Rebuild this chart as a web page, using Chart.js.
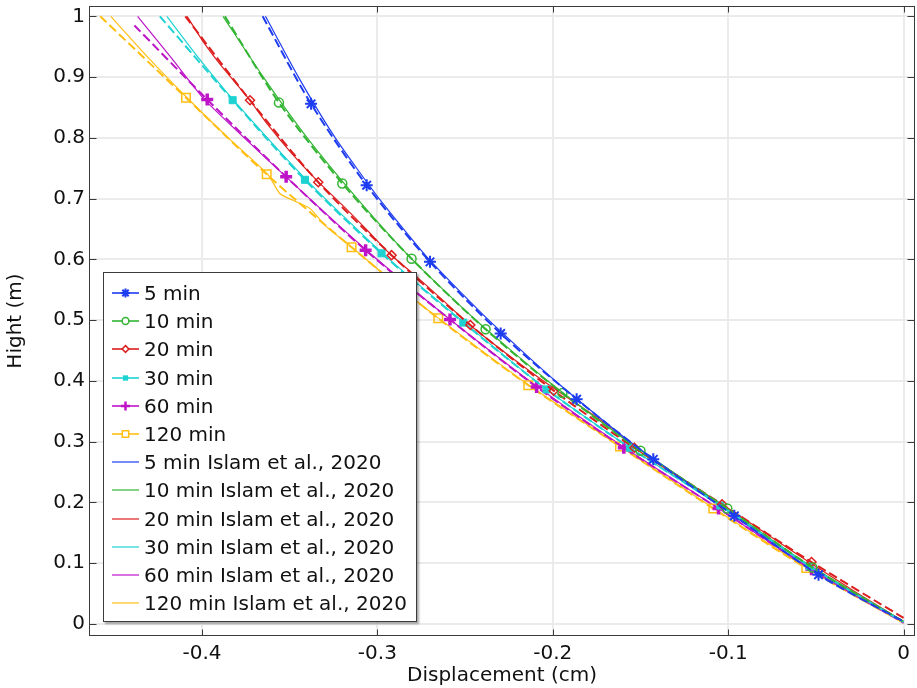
<!DOCTYPE html>
<html>
<head>
<meta charset="utf-8">
<script src="https://cdn.jsdelivr.net/npm/chart.js"></script>
<style>
body { margin: 0; background: #fff; font-family: 'DejaVu Sans', sans-serif; }
#wrap { position: relative; width: 917px; height: 688px; }
#legend {
    position: absolute; left: 103px; top: 272px; width: 314px; height: 350px;
    box-sizing: border-box; background: #fff; border: 1px solid #3c3c3c;
    box-shadow: 2px 2px 2px rgba(0,0,0,0.35); padding: 6px 0 0 8px;
}
.row { height: 28.2px; display: flex; align-items: center; font-size: 20px; color: #111; white-space: nowrap; }
.row canvas { margin-right: 5px; }
</style>
</head>
<body>
<div id="wrap">
    <canvas id="chart" width="917" height="688"></canvas>
    <div id="legend"></div>
</div>
<script>
// ---- axes ----
const xTickVals = [-0.4, -0.3, -0.2, -0.1, 0];
const yTickVals = [0, 0.1, 0.2, 0.3, 0.4, 0.5, 0.6, 0.7, 0.8, 0.9, 1];

// ---- series ----
const times = ['5 min', '10 min', '20 min', '30 min', '60 min', '120 min'];
const refTag = ' Islam et al., 2020';
const colors = ['#1e3cf0', '#33b533', '#dc1e1e', '#1ed2d2', '#be14c8', '#ffbe14'];
const marks = ['star', 'circle', 'rectRot', 'rect', 'cross', 'rect'];

// model: displacement (cm) vs height (m)
const model5X   = [-0.3654, -0.3378, -0.3061, -0.2700, -0.2297, -0.1864, -0.1427, -0.0965, -0.0485, 0];
const model5Y   = [1.0, 0.856, 0.722, 0.596, 0.478, 0.370, 0.271, 0.178, 0.081, 0.004];
const model10X  = [-0.3869, -0.3561, -0.3200, -0.2805, -0.2383, -0.1945, -0.1500, -0.1005, -0.0520, 0];
const model10Y  = [1.0, 0.858, 0.725, 0.601, 0.485, 0.380, 0.285, 0.190, 0.093, 0.004];
const model20X  = [-0.4095, -0.3726, -0.3337, -0.2919, -0.2470, -0.1995, -0.1535, -0.1035, -0.0525, 0];
const model20Y  = [1.0, 0.862, 0.727, 0.607, 0.492, 0.384, 0.290, 0.197, 0.102, 0.010];
const model30X  = [-0.4240, -0.3825, -0.3413, -0.2976, -0.2510, -0.2035, -0.1560, -0.1045, -0.0535, 0];
const model30Y  = [1.0, 0.862, 0.731, 0.610, 0.496, 0.386, 0.290, 0.195, 0.095, 0.003];
const model60X  = [-0.4385, -0.3970, -0.3520, -0.3067, -0.2586, -0.2092, -0.1595, -0.1055, -0.0525, 0];
const model60Y  = [0.985, 0.863, 0.736, 0.615, 0.501, 0.390, 0.290, 0.190, 0.090, 0.002];
const model120X = [-0.4580, -0.4091, -0.3631, -0.3147, -0.2653, -0.2140, -0.1617, -0.1085, -0.0555, 0];
const model120Y = [1.0, 0.866, 0.740, 0.620, 0.503, 0.393, 0.292, 0.190, 0.092, 0.002];

// Islam et al., 2020
const islam5X   = [-0.3638, -0.3450, -0.3240, -0.2990, -0.2705, -0.2365, -0.1985, -0.1560, -0.1070, -0.0580, 0];
const islam5Y   = [1.0, 0.9, 0.8, 0.7, 0.6, 0.5, 0.4, 0.3, 0.2, 0.1, 0.003];
const islam10X  = [-0.3880, -0.3650, -0.3400, -0.3115, -0.2802, -0.2438, -0.2028, -0.1570, -0.1057, -0.0555, 0];
const islam10Y  = [1.0, 0.9, 0.8, 0.7, 0.6, 0.5, 0.4, 0.3, 0.2, 0.1, 0.004];
const islam20X  = [-0.4085, -0.3985, -0.3880, -0.3735, -0.3620, -0.3490, -0.3345, -0.3195, -0.3065, -0.2925, -0.2790, -0.2635, -0.2475,
                   -0.2310, -0.2140, -0.1980, -0.1800, -0.1630, -0.1535, -0.1300, -0.1035, -0.0800, -0.0540, -0.0270, 0];
const islam20Y  = [1.0, 0.955, 0.915, 0.865, 0.820, 0.775, 0.730, 0.688, 0.650, 0.608, 0.575, 0.535, 0.493,
                   0.455, 0.418, 0.385, 0.350, 0.315, 0.290, 0.245, 0.197, 0.152, 0.102, 0.052, 0.004];
const islam30X  = [-0.4200, -0.4015, -0.3820, -0.3405, -0.2970, -0.2505, -0.2035, -0.1560, -0.1045, -0.0535, 0];
const islam30Y  = [1.0, 0.930, 0.862, 0.731, 0.610, 0.496, 0.386, 0.290, 0.195, 0.095, 0.003];
const islam60X  = [-0.4367, -0.4170, -0.3985, -0.3525, -0.3065, -0.2580, -0.2085, -0.1590, -0.1055, -0.0525, 0];
const islam60Y  = [1.0, 0.930, 0.863, 0.737, 0.616, 0.500, 0.390, 0.290, 0.190, 0.090, 0.002];
const islam120X = [-0.4520, -0.4300, -0.4085, -0.3850, -0.3625, -0.3555, -0.3480, -0.3385, -0.3290, -0.3145, -0.2900, -0.2650,
                   -0.2135, -0.1615, -0.1080, -0.0550, 0];
const islam120Y = [1.0, 0.930, 0.866, 0.800, 0.740, 0.708, 0.697, 0.684, 0.6535, 0.620, 0.560, 0.503,
                   0.393, 0.292, 0.190, 0.092, 0.002];

const modelX = [model5X, model10X, model20X, model30X, model60X, model120X];
const modelY = [model5Y, model10Y, model20Y, model30Y, model60Y, model120Y];
const islamX = [islam5X, islam10X, islam20X, islam30X, islam60X, islam120X];
const islamY = [islam5Y, islam10Y, islam20Y, islam30Y, islam60Y, islam120Y];

const pts = (xs, ys) => xs.map((x, i) => ({ x, y: ys[i] }));

// marker look per series
const markStyle = [
    { r: 6,   w: 2,   fill: false },
    { r: 4.5, w: 1.5, fill: false },
    { r: 4.5, w: 1.5, fill: false },
    { r: 5,   w: 1,   fill: true  },
    { r: 6,   w: 3.5, fill: false },
    { r: 6,   w: 1.5, fill: false }
];

const datasets = [];
times.forEach((t, i) => {
    const n = modelX[i].length;
    datasets.push({
        label: t,
        data: pts(modelX[i], modelY[i]),
        borderColor: colors[i],
        borderWidth: 2,
        borderDash: [9, 4],
        tension: 0.3,
        pointStyle: marks[i],
        pointRadius: c => (c.dataIndex === 0 || c.dataIndex === n - 1) ? 0 : markStyle[i].r,
        pointBorderWidth: markStyle[i].w,
        pointBorderColor: colors[i],
        pointBackgroundColor: markStyle[i].fill ? colors[i] : 'rgba(0,0,0,0)'
    });
});
times.forEach((t, i) => {
    datasets.push({
        label: t + refTag,
        data: pts(islamX[i], islamY[i]),
        borderColor: colors[i],
        borderWidth: 1.2,
        tension: 0.2,
        pointRadius: 0
    });
});

// box round the plot + inward tick marks on all four sides
const frameTicks = {
    id: 'frameTicks',
    afterDraw(chart) {
        const { ctx, chartArea: a, scales: { x, y } } = chart;
        const L = Math.round(a.left) + 0.5, R = Math.round(a.right) - 0.5;
        const T = Math.round(a.top) + 0.5, B = Math.round(a.bottom) - 0.5;
        ctx.save();
        ctx.strokeStyle = '#3a3a3a';
        ctx.lineWidth = 1;
        ctx.beginPath();
        x.ticks.forEach(t => {
            const p = Math.round(x.getPixelForValue(t.value)) + 0.5;
            ctx.moveTo(p, B); ctx.lineTo(p, B - 6);
            ctx.moveTo(p, T); ctx.lineTo(p, T + 6);
        });
        y.ticks.forEach(t => {
            const p = Math.round(y.getPixelForValue(t.value)) + 0.5;
            ctx.moveTo(L, p); ctx.lineTo(L + 7, p);
            ctx.moveTo(R, p); ctx.lineTo(R - 7, p);
        });
        ctx.stroke();
        ctx.strokeRect(L, T, R - L, B - T);
        ctx.restore();
    }
};

const font = { family: "'DejaVu Sans', sans-serif", size: 20 };
const fmt = v => String(+v.toFixed(1));

// fixed axis boxes so the plot area sits where it should
function fixX(s) { s.height = 52; s.paddingLeft = 0; s.paddingRight = 0; }
function fixY(s) { s.width = 89; s.paddingTop = 0; s.paddingBottom = 0; }

new Chart(document.getElementById('chart'), {
    type: 'line',
    data: { datasets },
    options: {
        responsive: false,
        animation: false,
        layout: { padding: { top: 6, right: 2, left: 0, bottom: 0 } },
        plugins: { legend: { display: false }, tooltip: { enabled: false } },
        scales: {
            x: {
                type: 'linear',
                min: -0.4644, max: 0.0065,
                afterBuildTicks: s => { s.ticks = xTickVals.map(v => ({ value: v })); },
                afterFit: fixX,
                ticks: { callback: fmt, font, color: '#111', padding: 6, maxRotation: 0, autoSkip: false },
                grid: { color: '#ebebeb', lineWidth: 2, drawTicks: false },
                border: { display: false },
                title: { display: true, text: 'Displacement (cm)', font, color: '#111', padding: { top: 0, bottom: 0 } }
            },
            y: {
                type: 'linear',
                min: -0.0197, max: 1.017,
                afterBuildTicks: s => { s.ticks = yTickVals.map(v => ({ value: v })); },
                afterFit: fixY,
                ticks: { callback: fmt, font, color: '#111', padding: 4, autoSkip: false },
                grid: { color: '#ebebeb', lineWidth: 2, drawTicks: false },
                border: { display: false },
                title: { display: true, text: 'Hight (m)', font, color: '#111', padding: { top: 4, bottom: 0 } }
            }
        }
    },
    plugins: [frameTicks]
});

// ---- legend ----
function drawMark(ctx, kind, x, y, color, st) {
    ctx.strokeStyle = color;
    ctx.fillStyle = color;
    ctx.lineWidth = st.w;
    const r = st.r;
    ctx.beginPath();
    if (kind === 'star') {
        for (let k = 0; k < 4; k++) {
            const a = k * Math.PI / 4;
            ctx.moveTo(x - r * Math.cos(a), y - r * Math.sin(a));
            ctx.lineTo(x + r * Math.cos(a), y + r * Math.sin(a));
        }
        ctx.stroke();
    } else if (kind === 'circle') {
        ctx.fillStyle = '#fff';
        ctx.arc(x, y, r, 0, Math.PI * 2);
        ctx.fill(); ctx.stroke();
    } else if (kind === 'rectRot') {
        ctx.fillStyle = '#fff';
        ctx.moveTo(x, y - r); ctx.lineTo(x + r, y); ctx.lineTo(x, y + r); ctx.lineTo(x - r, y); ctx.closePath();
        ctx.fill(); ctx.stroke();
    } else if (kind === 'rect') {
        const s = r * Math.SQRT1_2;
        if (st.fill) ctx.fillRect(x - s, y - s, 2 * s, 2 * s);
        else { ctx.fillStyle = '#fff'; ctx.rect(x - s, y - s, 2 * s, 2 * s); ctx.fill(); ctx.stroke(); }
    } else if (kind === 'cross') {
        ctx.moveTo(x - r, y); ctx.lineTo(x + r, y);
        ctx.moveTo(x, y - r); ctx.lineTo(x, y + r);
        ctx.stroke();
    }
}

function legendRow(label, color, kind, st) {
    const row = document.createElement('div');
    row.className = 'row';
    const c = document.createElement('canvas');
    c.width = 27; c.height = 16;
    const g = c.getContext('2d');
    g.strokeStyle = color;
    g.lineWidth = kind ? 1.6 : 1.2;
    g.beginPath(); g.moveTo(0, 8); g.lineTo(27, 8); g.stroke();
    if (kind) drawMark(g, kind, 13.5, 8, color, { r: st.r * 0.75, w: Math.min(st.w, 2.5), fill: st.fill });
    const span = document.createElement('span');
    span.textContent = label;
    row.appendChild(c);
    row.appendChild(span);
    return row;
}

const legend = document.getElementById('legend');
times.forEach((t, i) => legend.appendChild(legendRow(t, colors[i], marks[i], markStyle[i])));
times.forEach((t, i) => legend.appendChild(legendRow(t + refTag, colors[i], null, null)));
</script>
</body>
</html>
